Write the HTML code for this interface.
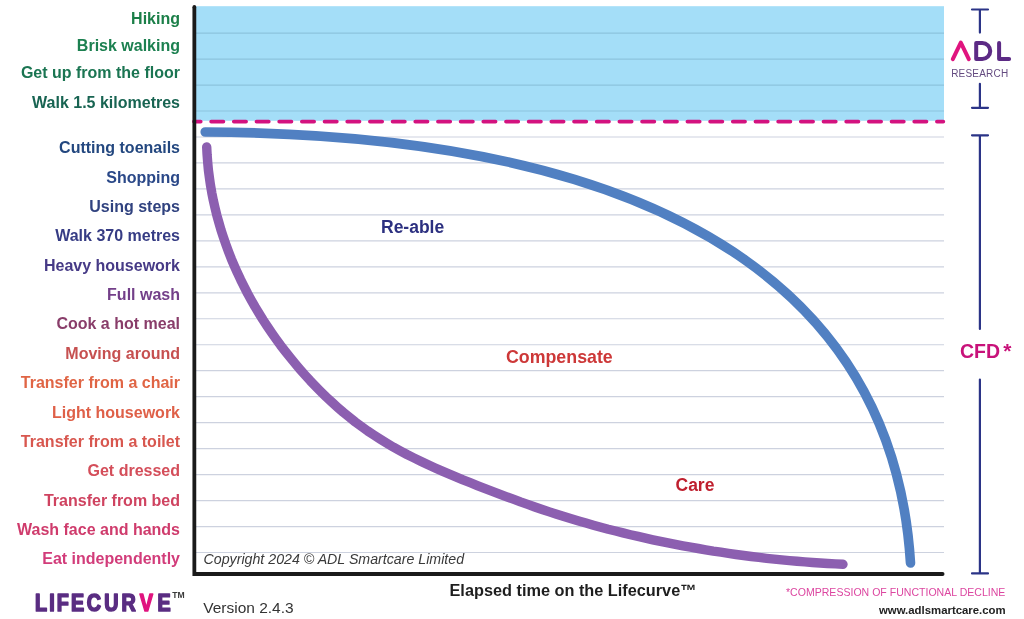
<!DOCTYPE html>
<html><head><meta charset="utf-8"><style>
html,body{margin:0;padding:0;background:#fff;}
body{width:1024px;height:619px;overflow:hidden;}
svg{display:block;will-change:transform;}
text{font-family:"Liberation Sans",Arial,sans-serif;}
.lab text{font-size:16px;font-weight:bold;text-anchor:end;}
</style></head><body>
<svg width="1024" height="619" viewBox="0 0 1024 619">
<rect x="196" y="6.2" width="748" height="114.6" fill="#a4def8"/>
<line x1="196" y1="33.10" x2="944" y2="33.10" stroke="#8cc3de" stroke-width="1.2"/>
<line x1="196" y1="59.07" x2="944" y2="59.07" stroke="#8cc3de" stroke-width="1.2"/>
<line x1="196" y1="85.04" x2="944" y2="85.04" stroke="#8cc3de" stroke-width="1.2"/>
<line x1="196" y1="111.01" x2="944" y2="111.01" stroke="#8cc3de" stroke-width="1.2"/>
<line x1="196" y1="136.98" x2="944" y2="136.98" stroke="#cdd2df" stroke-width="1.2"/>
<line x1="196" y1="162.95" x2="944" y2="162.95" stroke="#cdd2df" stroke-width="1.2"/>
<line x1="196" y1="188.92" x2="944" y2="188.92" stroke="#cdd2df" stroke-width="1.2"/>
<line x1="196" y1="214.89" x2="944" y2="214.89" stroke="#cdd2df" stroke-width="1.2"/>
<line x1="196" y1="240.86" x2="944" y2="240.86" stroke="#cdd2df" stroke-width="1.2"/>
<line x1="196" y1="266.83" x2="944" y2="266.83" stroke="#cdd2df" stroke-width="1.2"/>
<line x1="196" y1="292.80" x2="944" y2="292.80" stroke="#cdd2df" stroke-width="1.2"/>
<line x1="196" y1="318.77" x2="944" y2="318.77" stroke="#cdd2df" stroke-width="1.2"/>
<line x1="196" y1="344.74" x2="944" y2="344.74" stroke="#cdd2df" stroke-width="1.2"/>
<line x1="196" y1="370.71" x2="944" y2="370.71" stroke="#cdd2df" stroke-width="1.2"/>
<line x1="196" y1="396.68" x2="944" y2="396.68" stroke="#cdd2df" stroke-width="1.2"/>
<line x1="196" y1="422.65" x2="944" y2="422.65" stroke="#cdd2df" stroke-width="1.2"/>
<line x1="196" y1="448.62" x2="944" y2="448.62" stroke="#cdd2df" stroke-width="1.2"/>
<line x1="196" y1="474.59" x2="944" y2="474.59" stroke="#cdd2df" stroke-width="1.2"/>
<line x1="196" y1="500.56" x2="944" y2="500.56" stroke="#cdd2df" stroke-width="1.2"/>
<line x1="196" y1="526.53" x2="944" y2="526.53" stroke="#cdd2df" stroke-width="1.2"/>
<line x1="196" y1="552.50" x2="944" y2="552.50" stroke="#cdd2df" stroke-width="1.2"/>

<line x1="194" y1="121.6" x2="943.3" y2="121.6" stroke="#d3127f" stroke-width="3.8" stroke-dasharray="12.2 10.48" stroke-dashoffset="5.5" stroke-linecap="round"/>
<path d="M205.2,132 C719.5,134.7 895.9,327.2 910.5,563" fill="none" stroke="#5180c2" stroke-width="9.6" stroke-linecap="round" stroke-linejoin="round"/>
<path d="M206.7,147.0 L207.1,154.7 L207.7,162.4 L208.4,170.1 L209.4,177.7 L210.5,185.3 L211.8,192.8 L213.3,200.3 L215.0,207.8 L216.8,215.2 L218.9,222.6 L221.0,230.0 L223.4,237.2 L225.9,244.5 L228.5,251.6 L231.3,258.8 L234.3,265.8 L237.4,272.8 L240.7,279.8 L244.1,286.6 L247.6,293.5 L251.3,300.2 L255.1,306.9 L259.1,313.5 L263.1,320.0 L267.3,326.4 L271.7,332.8 L276.1,339.1 L280.6,345.3 L285.3,351.4 L290.1,357.4 L295.0,363.4 L299.9,369.2 L305.0,375.0 L310.2,380.7 L315.5,386.2 L320.9,391.7 L326.4,397.1 L332.0,402.3 L337.7,407.4 L343.4,412.4 L349.3,417.2 L355.3,422.0 L361.5,426.5 L367.7,431.0 L374.0,435.2 L380.4,439.3 L386.9,443.3 L393.5,447.2 L400.2,450.9 L407.0,454.5 L413.8,457.9 L420.7,461.3 L427.6,464.6 L434.6,467.8 L441.7,470.9 L448.8,473.9 L455.9,476.9 L463.0,479.9 L470.2,482.7 L477.3,485.6 L484.5,488.4 L491.7,491.1 L498.9,493.9 L506.1,496.6 L513.3,499.2 L520.5,501.9 L527.7,504.4 L534.9,507.0 L542.2,509.5 L549.4,511.9 L556.7,514.3 L564.0,516.6 L571.3,518.8 L578.7,521.0 L586.0,523.1 L593.4,525.2 L600.8,527.2 L608.2,529.2 L615.6,531.0 L623.0,532.9 L630.5,534.7 L638.0,536.4 L645.5,538.1 L652.9,539.8 L660.5,541.4 L668.0,542.9 L675.5,544.4 L683.0,545.8 L690.6,547.2 L698.2,548.5 L705.7,549.8 L713.3,551.1 L720.9,552.2 L728.5,553.4 L736.1,554.5 L743.7,555.5 L751.3,556.5 L758.9,557.4 L766.6,558.3 L774.2,559.1 L781.8,559.9 L789.5,560.6 L797.1,561.3 L804.8,561.9 L812.4,562.5 L820.1,563.0 L827.7,563.5 L835.4,563.9 L843.0,564.3" fill="none" stroke="#8c5fb0" stroke-width="9.4" stroke-linecap="round" stroke-linejoin="round"/>
<path d="M194.35,7 V574 H942.6" fill="none" stroke="#1a1a1a" stroke-width="3.8" stroke-linejoin="miter"/>
<circle cx="194.35" cy="7" r="1.9" fill="#1a1a1a"/>
<circle cx="942.6" cy="574" r="1.9" fill="#1a1a1a"/>
<g class="lab">
<text x="180" y="24.1" fill="#1b7f48">Hiking</text>
<text x="180" y="50.7" fill="#1c8050">Brisk walking</text>
<text x="180" y="77.6" fill="#1b7552">Get up from the floor</text>
<text x="180" y="107.8" fill="#186452">Walk 1.5 kilometres</text>
<text x="180" y="153.3" fill="#23477f">Cutting toenails</text>
<text x="180" y="182.7" fill="#2a4888">Shopping</text>
<text x="180" y="212.0" fill="#30427f">Using steps</text>
<text x="180" y="241.4" fill="#363c84">Walk 370 metres</text>
<text x="180" y="270.7" fill="#463a86">Heavy housework</text>
<text x="180" y="300.1" fill="#733f89">Full wash</text>
<text x="180" y="329.4" fill="#893d6a">Cook a hot meal</text>
<text x="180" y="358.8" fill="#c65050">Moving around</text>
<text x="180" y="388.1" fill="#e06545">Transfer from a chair</text>
<text x="180" y="417.5" fill="#df6048">Light housework</text>
<text x="180" y="446.8" fill="#d8574f">Transfer from a toilet</text>
<text x="180" y="476.2" fill="#d44e5a">Get dressed</text>
<text x="180" y="505.5" fill="#cf4360">Transfer from bed</text>
<text x="180" y="534.9" fill="#cf3b6c">Wash face and hands</text>
<text x="180" y="564.2" fill="#d23c7a">Eat independently</text>
</g>
<text x="381" y="232.7" font-size="17.5" font-weight="bold" fill="#2c3080">Re-able</text>
<text x="506" y="363.1" font-size="17.8" font-weight="bold" fill="#cd3838">Compensate</text>
<text x="675.5" y="491" font-size="17.5" font-weight="bold" fill="#bf1f2e">Care</text>
<text x="203.6" y="564.1" font-size="14.2" font-style="italic" fill="#3a3a3a">Copyright 2024 © ADL Smartcare Limited</text>
<text x="449.5" y="596" font-size="16.3" font-weight="bold" fill="#1e1e1e">Elapsed time on the Lifecurve™</text>
<text x="203.2" y="612.8" font-size="15.5" fill="#333">Version 2.4.3</text>
<text transform="scale(0.84,1)" x="41.73 58.75 67.56 84.64 103.24 124.11 144.52 166.43 187.62" y="611.2" font-size="23.5" font-weight="bold" fill="#5a2d82" stroke="#5a2d82" stroke-width="1.7" stroke-linejoin="round">LIFECUR<tspan fill="#e0147f" stroke="#e0147f">V</tspan>E</text>
<text x="172.3" y="598.4" font-size="8.6" font-weight="bold" fill="#3a3a3a">TM</text>
<text x="786" y="596.2" font-size="10.55" fill="#dc46a0">*COMPRESSION OF FUNCTIONAL DECLINE</text>
<text x="879" y="613.7" font-size="11.38" font-weight="bold" fill="#222">www.adlsmartcare.com</text>
<g stroke="#2b3487" stroke-width="2.2" stroke-linecap="round" fill="none">
<path d="M972,9.5 H988 M979.9,9.5 V32.6"/>
<path d="M979.9,83.8 V107.8 M972,107.8 H988"/>
<path d="M972,135.3 H988 M979.9,135.3 V328.9"/>
<path d="M979.9,379.5 V573.4 M972,573.4 H988"/>
</g>
<g fill="none" stroke-linecap="round" stroke-linejoin="round" stroke-width="4">
<path d="M952.8,59.1 L960.8,42.6 L968.8,59.1" stroke="#e0147f"/>
<path d="M976.2,43 H982.3 A7.95,7.95 0 0 1 982.3,58.9 H976.2 Z" stroke="#5c2a85"/>
<path d="M999.1,43 V58.9 H1009.1" stroke="#5c2a85"/>
</g>
<text x="951.2" y="76.6" font-size="10" fill="#644b80" letter-spacing="0.2">RESEARCH</text>
<text x="960" y="358" font-size="19.5" font-weight="bold" fill="#c8127a">CFD</text>
<text x="1003.3" y="358.4" font-size="21" font-weight="bold" fill="#c8127a">*</text>
</svg>
</body></html>
